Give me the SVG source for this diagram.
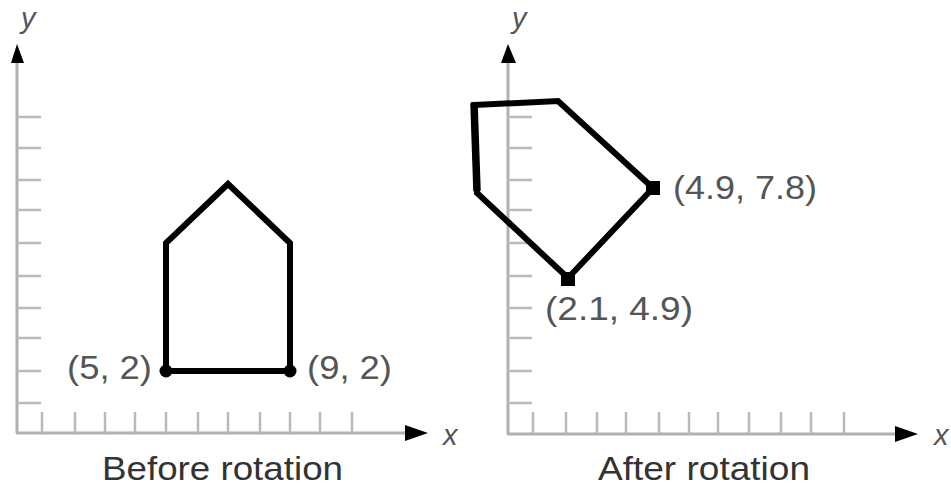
<svg xmlns="http://www.w3.org/2000/svg" width="951" height="487" viewBox="0 0 951 487">
<style>
.axis{stroke:#b0b0b0;stroke-width:3;fill:none}
.tick{stroke:#bababa;stroke-width:2.5;fill:none}
.shape{stroke:#000;stroke-width:6;fill:none;stroke-linejoin:miter}
.arrow{fill:#000}
.lbl{font-family:"Liberation Sans",Arial,sans-serif;font-size:33px;fill:#555}
.title{font-family:"Liberation Sans",Arial,sans-serif;font-size:33px;fill:#333}
.ax{font-family:"Liberation Sans",Arial,sans-serif;font-size:29px;font-style:italic;fill:#555}
</style>
<rect width="951" height="487" fill="#fff"/>

<g id="left-axes">
  <line class="axis" x1="17" y1="62" x2="17" y2="433"/>
  <line class="axis" x1="16" y1="433" x2="406" y2="433"/>
  <polygon class="arrow" points="17,44 11,63 24,63"/>
  <polygon class="arrow" points="428,433 405,425 405,441"/>
  <g class="tick">
    <path d="M17 117H41M17 148H41M17 180H41M17 210H41M17 243H41M17 276H41M17 308H41M17 338H41M17 371H41M17 403H41"/>
    <path d="M42 412V433M75 412V433M105 412V433M135 412V433M166 412V433M198 412V433M228 412V433M260 412V433M290 412V433M320 412V433M352 412V433"/>
  </g>
  <text class="ax" x="21" y="28">y</text>
  <text class="ax" x="443" y="445">x</text>
</g>

<g id="house">
  <polygon class="shape" points="166,371 166,243 228,184 290,243 290,371"/>
  <circle cx="166" cy="371" r="6.5"/>
  <circle cx="290" cy="371" r="6.5"/>
  <text class="lbl" x="67" y="379" textLength="85" lengthAdjust="spacingAndGlyphs">(5, 2)</text>
  <text class="lbl" x="307" y="379" textLength="85" lengthAdjust="spacingAndGlyphs">(9, 2)</text>
</g>

<g id="right-axes">
  <line class="axis" x1="508" y1="62" x2="508" y2="434"/>
  <line class="axis" x1="507" y1="434" x2="896" y2="434"/>
  <polygon class="arrow" points="508,44 501,63 516,63"/>
  <polygon class="arrow" points="918,434 895,426 895,442"/>
  <g class="tick">
    <path d="M508 117H532M508 148H532M508 180H532M508 210H532M508 243H532M508 276H532M508 308H532M508 338H532M508 371H532M508 403H532"/>
    <path d="M533 412V434M566 412V434M597 412V434M626 412V434M659 412V434M689 412V434M718 412V434M749 412V434M781 412V434M811 412V434M844 412V434"/>
  </g>
  <text class="ax" x="512" y="28">y</text>
  <text class="ax" x="934" y="445">x</text>
</g>

<g id="rotated-house">
  <polygon class="shape" points="474,105 558,101 653,188 568,278 477,193"/>
  <line x1="474" y1="103" x2="477" y2="191" stroke="#000" stroke-width="7.5"/>
  <rect x="646" y="181" width="14" height="14"/>
  <rect x="561" y="272" width="14" height="14"/>
  <text class="lbl" x="673" y="199" textLength="144" lengthAdjust="spacingAndGlyphs">(4.9, 7.8)</text>
  <text class="lbl" x="545" y="320" textLength="148" lengthAdjust="spacingAndGlyphs">(2.1, 4.9)</text>
</g>

<g id="captions">
  <text class="title" x="102" y="480" textLength="241" lengthAdjust="spacingAndGlyphs">Before rotation</text>
  <text class="title" x="598" y="480" textLength="212" lengthAdjust="spacingAndGlyphs">After rotation</text>
</g>
</svg>
